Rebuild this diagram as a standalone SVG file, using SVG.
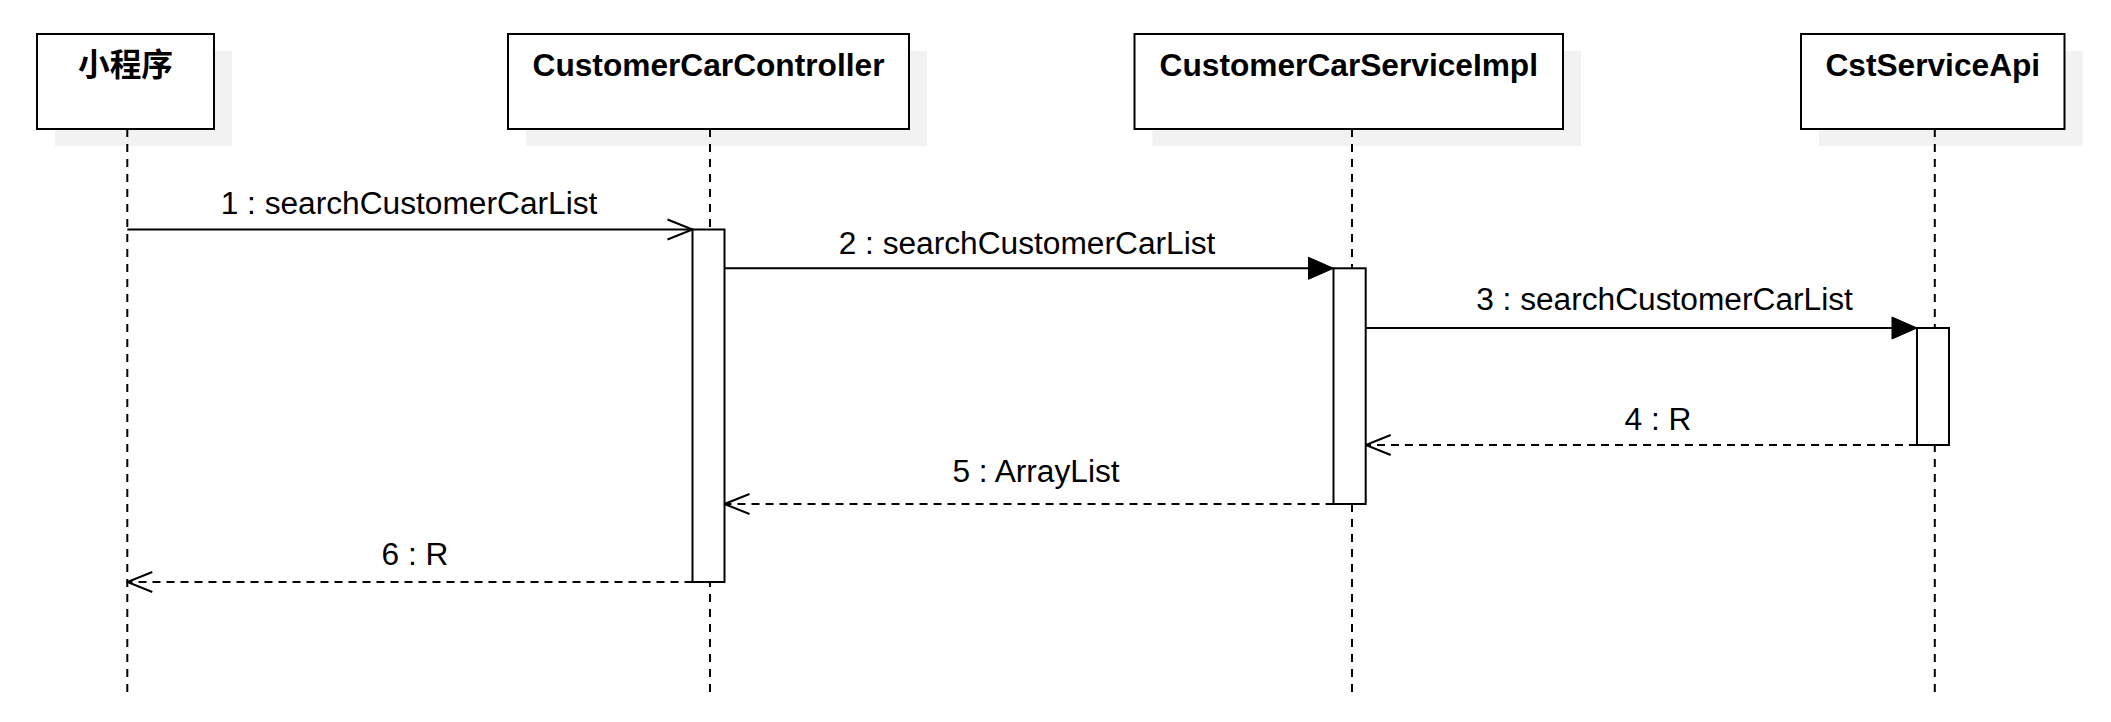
<svg xmlns="http://www.w3.org/2000/svg" width="2111" height="722" viewBox="0 0 2111 722">
  <style>
    .shadow { fill: #f2f2f2; stroke: none; }
    .box { fill: #ffffff; stroke: #000000; stroke-width: 2; }
    .title { font-family: "Liberation Sans", Arial, "Noto Sans CJK SC", sans-serif; font-size: 31.68px; font-weight: bold; fill: #000000; text-anchor: middle; }
    .life { stroke: #000000; stroke-width: 2; stroke-dasharray: 8 7; fill: none; }
    .act { fill: #ffffff; stroke: #000000; stroke-width: 2; }
    .msg { stroke: #000000; stroke-width: 2; fill: none; }
    .ret { stroke: #000000; stroke-width: 2; fill: none; stroke-dasharray: 8 6; }
    .lbl { font-family: "Liberation Sans", Arial, sans-serif; font-size: 31.68px; fill: #000000; text-anchor: middle; }
  </style>
  <defs>
    <marker id="open" viewBox="-27 -12 28 24" refX="0" refY="0" markerWidth="28" markerHeight="24" orient="auto" markerUnits="userSpaceOnUse">
      <path d="M-25,-10 L0,0 L-25,10" fill="none" stroke="#000000" stroke-width="2"/>
    </marker>
    <marker id="filled" viewBox="-27 -12 28 24" refX="0" refY="0" markerWidth="28" markerHeight="24" orient="auto" markerUnits="userSpaceOnUse">
      <path d="M-25,-11 L0,0 L-25,11 Z" fill="#000000" stroke="#000000" stroke-width="1"/>
    </marker>
  </defs>
  <rect width="2111" height="722" fill="#ffffff"/>

  <g id="node-xiaochengxu">
    <rect class="shadow" x="55" y="51" width="177" height="95"/>
    <rect class="box" x="37" y="34" width="177" height="95"/>
    <line class="life" x1="127.3" y1="129" x2="127.3" y2="697"/>
    <text class="title" x="125.5" y="76">小程序</text>
  </g>

  <g id="node-controller">
    <rect class="shadow" x="526" y="51" width="401" height="95"/>
    <rect class="box" x="508" y="34" width="401" height="95"/>
    <line class="life" x1="710" y1="129" x2="710" y2="697"/>
    <text class="title" x="708.5" y="76">CustomerCarController</text>
    <rect class="act" x="692.5" y="229.5" width="32" height="352.5"/>
  </g>

  <g id="node-serviceimpl">
    <rect class="shadow" x="1152.5" y="51" width="428.5" height="95"/>
    <rect class="box" x="1134.5" y="34" width="428.5" height="95"/>
    <line class="life" x1="1352" y1="129" x2="1352" y2="697"/>
    <text class="title" x="1348.8" y="76">CustomerCarServiceImpl</text>
    <rect class="act" x="1333.5" y="268.3" width="32.2" height="235.7"/>
  </g>

  <g id="node-cstserviceapi">
    <rect class="shadow" x="1819" y="51" width="263.5" height="95"/>
    <rect class="box" x="1801" y="34" width="263.5" height="95"/>
    <line class="life" x1="1934.8" y1="129" x2="1934.8" y2="697"/>
    <text class="title" x="1932.8" y="76">CstServiceApi</text>
    <rect class="act" x="1917" y="328" width="32" height="117"/>
  </g>

  <g id="connectors">
    <line class="msg" x1="127.3" y1="229.5" x2="692.5" y2="229.5" marker-end="url(#open)"/>
    <text class="lbl" x="409" y="214">1 : searchCustomerCarList</text>

    <line class="msg" x1="724.5" y1="268.3" x2="1333.5" y2="268.3" marker-end="url(#filled)"/>
    <text class="lbl" x="1027" y="254">2 : searchCustomerCarList</text>

    <line class="msg" x1="1365.7" y1="328" x2="1917" y2="328" marker-end="url(#filled)"/>
    <text class="lbl" x="1664.5" y="310">3 : searchCustomerCarList</text>

    <line class="ret" x1="1917" y1="445" x2="1365.7" y2="445" marker-end="url(#open)"/>
    <text class="lbl" x="1658" y="430">4 : R</text>

    <line class="ret" x1="1333.5" y1="504" x2="724.5" y2="504" marker-end="url(#open)"/>
    <text class="lbl" x="1036" y="481.5">5 : ArrayList</text>

    <line class="ret" x1="692.5" y1="582" x2="127.3" y2="582" marker-end="url(#open)"/>
    <text class="lbl" x="415" y="565">6 : R</text>
  </g>
</svg>
